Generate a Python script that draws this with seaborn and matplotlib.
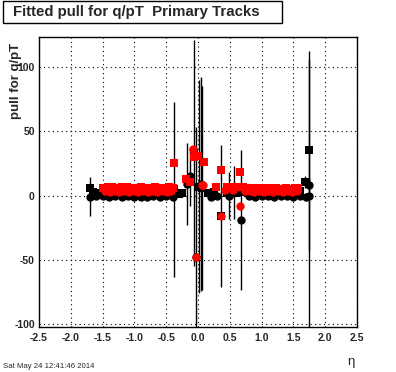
import matplotlib
matplotlib.use("Agg")
import matplotlib.pyplot as plt
import seaborn as sns
import pandas as pd
from matplotlib.patches import Rectangle
from matplotlib.ticker import MultipleLocator

# ---------------- data ----------------
title = "Fitted pull for q/pT  Primary Tracks"
ylabel = "pull for q/pT"
xlabel = "\u03b7"
datestamp = "Sat May 24 12:41:46 2014"

# black squares (with error bars)
bsq_eta = [-1.7, -1.65, -1.6, -1.55, -1.5, -1.45, -1.4, -1.3, -1.2, -1.1, -1.0, -0.9, -0.8, -0.7, -0.6, -0.5, -0.45,
           -0.37, -0.3, -0.25, -0.07, 0.02, 0.07, 0.15, 0.25, 0.36, 0.45, 0.57, 0.6, 0.7, 0.8, 0.9,
           1.0, 1.1, 1.2, 1.3, 1.4, 1.5, 1.6, 1.68, 1.75]
bsq_val = [6.0, 3.0, 1.5, 2.0, 1.5, 2.0, 2.0, 1.5, 1.0, 1.5, 1.0, 0.5, 1.0, 1.5, 1.0, 1.5, 1.0,
           4.7, 1.5, 2.0, 33.0, 7.0, 6.0, 2.0, 2.5, -16.0, 2.0, 2.5, 2.0, 2.5, 2.0, 2.5,
           2.0, 2.5, 3.0, 2.5, 3.0, 3.0, 3.5, 10.5, 35.0]
bsq_err = [2.0, 1.5, 1.0, 1.0, 1.0, 1.0, 1.0, 1.0, 1.0, 1.0, 1.0, 1.0, 1.0, 1.0, 1.0, 1.0, 1.5,
           68.0, 2.0, 3.0, 88.0, 83.0, 79.0, 3.0, 3.0, 55.0, 2.0, 20.5, 2.0, 1.5, 1.5, 1.5,
           1.5, 1.5, 1.5, 1.5, 1.5, 2.0, 2.0, 5.0, 77.0]

# black circles (with error bars)
bci_eta = [-1.7, -1.6, -1.5, -1.4, -1.3, -1.2, -1.1, -1.0, -0.9, -0.8, -0.7, -0.6, -0.5, -0.4,
           -0.18, -0.12, -0.03, 0.05, 0.2, 0.3, 0.49, 0.67, 0.8, 0.9, 1.0, 1.1, 1.2, 1.3, 1.4,
           1.5, 1.6, 1.7, 1.74, 1.75]
bci_val = [-1.0, -0.5, -0.5, -1.0, -0.5, -1.0, -0.5, -1.0, -1.5, -1.0, -0.5, -1.0, -0.5, -1.0,
           9.0, 15.0, -48.0, 9.0, -1.0, -0.5, 0.0, -19.0, -0.5, -1.0, -0.5, -0.5, -1.0, -0.5, -0.5,
           -1.0, -0.5, -1.0, 8.5, 0.0]
bci_err = [15.0, 1.5, 1.0, 1.0, 1.0, 1.0, 1.0, 1.0, 1.0, 1.0, 1.0, 1.0, 1.0, 1.5,
           32.0, 23.0, 101.0, 83.0, 2.0, 2.0, 18.5, 54.0, 1.5, 1.5, 1.5, 1.5, 1.5, 1.5, 1.5,
           1.5, 2.0, 3.0, 5.0, 105.0]

# red squares
rsq_eta = [-1.5, -1.42, -1.35, -1.28, -1.2, -1.12, -1.05, -0.98, -0.9, -0.82, -0.75, -0.68, -0.6, -0.52, -0.45, -0.4,
           -0.37, -0.19, -0.13, -0.07, 0.0, 0.1, 0.29, 0.36, 0.45, 0.5, 0.6, 0.66,
           0.7, 0.78, 0.85, 0.92, 1.0, 1.08, 1.15, 1.22, 1.3, 1.38, 1.45, 1.52, 1.57]
rsq_val = [6.0, 6.5, 6.5, 6.0, 6.5, 6.5, 6.0, 6.0, 6.5, 6.0, 6.0, 6.5, 6.0, 6.0, 6.5, 5.5,
           25.0, 12.5, 10.7, 30.0, 31.0, 26.0, 7.0, 19.5, 6.5, 7.0, 6.5, 18.0,
           6.5, 6.0, 6.0, 6.0, 5.5, 5.5, 5.5, 5.5, 5.0, 5.5, 5.0, 5.5, 5.5]

# red circles
rci_eta = [-1.46, -1.38, -1.31, -1.24, -1.16, -1.08, -1.01, -0.94, -0.86, -0.78, -0.71, -0.64, -0.56, -0.48, -0.42,
           -0.08, -0.03, 0.07, 0.08, 0.36, 0.42, 0.55, 0.66,
           0.74, 0.81, 0.88, 0.96, 1.04, 1.11, 1.18, 1.26, 1.34, 1.41, 1.48, 1.55]
rci_val = [3.5, 3.0, 3.5, 3.0, 3.5, 3.0, 3.5, 3.0, 3.5, 3.0, 3.5, 3.0, 3.5, 3.0, 3.5,
           36.0, -48.0, 8.0, 8.5, -15.5, 4.0, 4.5, -8.0,
           3.5, 3.5, 3.0, 3.5, 3.0, 3.5, 3.0, 3.5, 3.0, 3.5, 3.0, 3.5]

# ---------------- plot ----------------
sns.set_style("white")
plt.rcParams["font.family"] = ["Liberation Sans", "DejaVu Sans"]
plt.rcParams["axes.unicode_minus"] = False

fig = plt.figure(figsize=(3.96, 3.72), dpi=100)
ax = fig.add_axes([39 / 396, 45 / 372, 318 / 396, 290 / 372])

# error bars (black)
ax.errorbar(bsq_eta, bsq_val, yerr=bsq_err, fmt="none", ecolor="black", elinewidth=1.0, capsize=0, zorder=2)
ax.errorbar(bci_eta, bci_val, yerr=bci_err, fmt="none", ecolor="black", elinewidth=1.0, capsize=0, zorder=2)

df_bsq = pd.DataFrame({"eta": bsq_eta, "val": bsq_val})
df_bci = pd.DataFrame({"eta": bci_eta, "val": bci_val})
df_rsq = pd.DataFrame({"eta": rsq_eta, "val": rsq_val})
df_rci = pd.DataFrame({"eta": rci_eta, "val": rci_val})

msz = 36
sns.scatterplot(data=df_bci, x="eta", y="val", ax=ax, marker="o", s=msz, color="black", linewidth=0, zorder=3)
sns.scatterplot(data=df_bsq, x="eta", y="val", ax=ax, marker="s", s=msz, color="black", linewidth=0, zorder=3)
sns.scatterplot(data=df_rci, x="eta", y="val", ax=ax, marker="o", s=msz, color="#ff0000", linewidth=0, zorder=4)
sns.scatterplot(data=df_rsq, x="eta", y="val", ax=ax, marker="s", s=msz, color="#ff0000", linewidth=0, zorder=4)

ax.set_xlim(-2.5, 2.5)
ax.set_ylim(-102, 123)
ax.set_xlabel("")
ax.set_ylabel("")

ax.xaxis.set_major_locator(MultipleLocator(0.5))
ax.xaxis.set_minor_locator(MultipleLocator(0.1))
ax.yaxis.set_major_locator(MultipleLocator(50))
ax.yaxis.set_minor_locator(MultipleLocator(10))
ax.tick_params(axis="both", which="major", direction="in", length=6, width=0.8, color="black",
               labelsize=7.5, pad=3, top=False, right=False)
ax.tick_params(axis="both", which="minor", direction="in", length=3, width=0.8, color="black",
               top=False, right=False)
ax.tick_params(axis="x", which="major", pad=4)
for lab in ax.get_xticklabels() + ax.get_yticklabels():
    lab.set_fontweight("bold")

ax.grid(True, which="major", color="black", linestyle=(0, (1, 3)), linewidth=0.8)
ax.set_axisbelow(True)
for sp in ax.spines.values():
    sp.set_color("black")
    sp.set_linewidth(1.0)

# title box
fig.patches.append(Rectangle((3 / 396, 1 - 23 / 372), 279 / 396, 22 / 372, transform=fig.transFigure,
                             facecolor="white", edgecolor="black", linewidth=1.0, zorder=5))
fig.text(13 / 396, 1 - 12 / 372, title, fontsize=10.8, fontweight="bold", ha="left", va="center", zorder=6)

fig.text(16 / 396, 1 - 43 / 372, ylabel, fontsize=9.5, fontweight="bold", rotation=90,
         ha="center", va="top")
fig.text(351 / 396, 1 - 362 / 372, xlabel, fontsize=9.5, ha="center", va="center")
fig.text(3 / 396, 1 - 366 / 372, datestamp, fontsize=5.6, ha="left", va="center")

fig.savefig("out.png", dpi=100)
